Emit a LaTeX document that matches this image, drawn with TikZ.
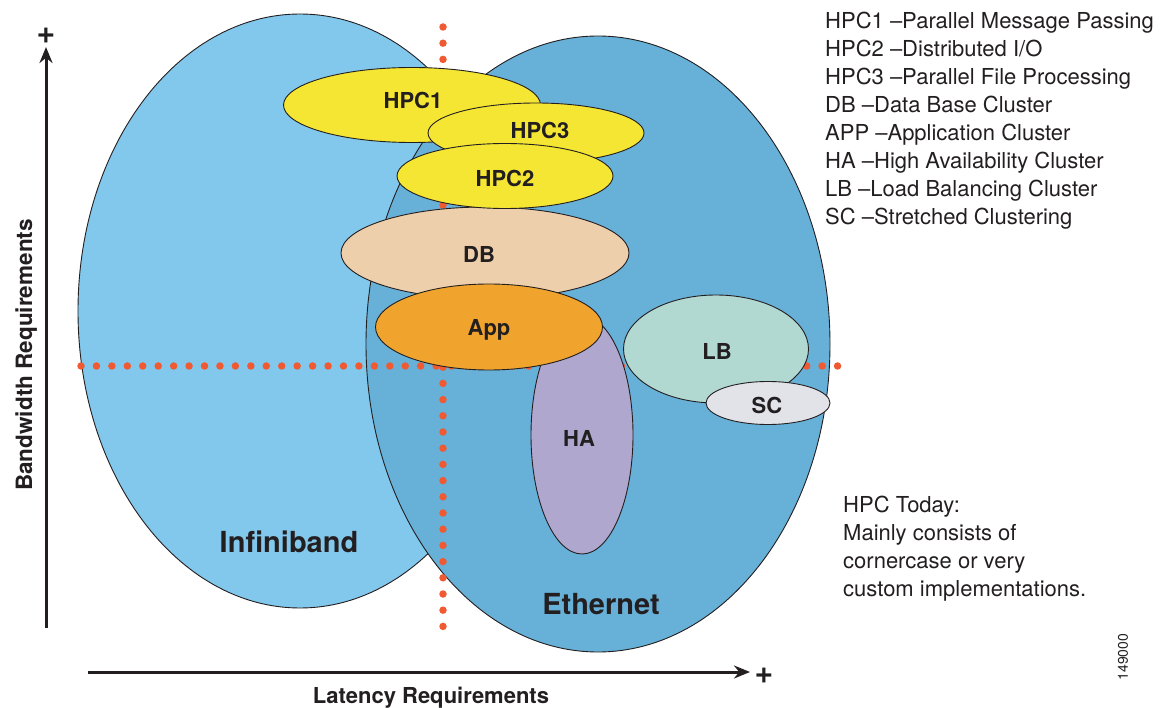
\documentclass[tikz,border=0pt]{standalone}
\usepackage{fontspec}
\setmainfont{TeX Gyre Heros}
\usetikzlibrary{shapes.geometric,arrows.meta}
\definecolor{ibblue}{HTML}{82C8EC}
\definecolor{ethblue}{HTML}{67B0D8}
\definecolor{hpcyellow}{HTML}{F5E633}
\definecolor{dbtan}{HTML}{EECFAB}
\definecolor{apporange}{HTML}{F0A42E}
\definecolor{halilac}{HTML}{B0A7CF}
\definecolor{lbteal}{HTML}{B2D8D2}
\definecolor{scgrey}{HTML}{E2E3E8}
\definecolor{dotred}{HTML}{F05A32}
\definecolor{ink}{HTML}{231F20}
\begin{document}
\begin{tikzpicture}[x=1pt,y=-1pt,
  blob/.style={ellipse, draw=ink, line width=0.9pt, inner sep=0pt},
  tag/.style={text=ink, inner sep=0pt, text depth=0pt, font=\fontsize{22}{22}\selectfont\bfseries},
  dotline/.style={draw=dotred, line width=7.5pt, line cap=round, dash pattern=on 0pt off #1},
  axis/.style={draw=ink, line width=3pt, -{Stealth[length=16pt,width=13pt]}},
  bigtag/.style={text=ink, inner sep=0pt, font=\fontsize{29}{29}\selectfont\bfseries},
  plain/.style={text=ink, inner sep=0pt, align=left, font=\fontsize{22}{28}\selectfont},
  plus/.style={text=ink, inner sep=0pt, font=\fontsize{32}{32}\selectfont\bfseries}
]
\useasboundingbox (0,0) rectangle (1175,708);
% big regions
\node[blob, fill=ibblue, minimum width=444pt, minimum height=594pt] (ib) at (300,311) {};
\node[blob, fill=ethblue, minimum width=464pt, minimum height=616pt] (eth) at (598,344) {};
% dotted quadrant lines
\coordinate (vtop) at (443,27);
\coordinate (vbot) at (443,627.5);
\coordinate (hl) at (81,366);
\coordinate (hr) at (838.5,366);
\draw[dotline=16.2pt] (vtop) -- (vbot);
\draw[dotline=15.44pt] (hl) -- (hr);
% clusters
\node[blob, fill=hpcyellow, minimum width=257pt, minimum height=75pt] (hpc1) at (412,105) {};
\node[tag] (hpc1t) at (413,100) {HPC1};
\node[blob, fill=hpcyellow, minimum width=216pt, minimum height=60pt] (hpc3) at (536,133) {};
\node[tag] (hpc3t) at (540,130) {HPC3};
\node[blob, fill=dbtan, minimum width=288pt, minimum height=92pt] (db) at (485,253) {};
\node[tag] (dbt) at (479,254) {DB};
\node[blob, fill=hpcyellow, minimum width=216pt, minimum height=65pt] (hpc2) at (505,176) {};
\node[tag] (hpc2t) at (505,178) {HPC2};
\node[blob, fill=halilac, minimum width=102pt, minimum height=238pt] (ha) at (582,435) {};
\node[tag] (hat) at (579,438) {HA};
\node[blob, fill=apporange, minimum width=227pt, minimum height=86pt] (app) at (489,327) {};
\node[tag] (appt) at (489,327) {App};
\node[blob, fill=lbteal, minimum width=185pt, minimum height=108pt] (lb) at (716,349) {};
\node[tag] (lbt) at (717,351) {LB};
\node[blob, fill=scgrey, minimum width=124pt, minimum height=43pt] (sc) at (768,403) {};
\node[tag] (sct) at (767,405) {SC};
% region labels
\node[bigtag] (iblabel) at (289,542) {Infiniband};
\node[bigtag] (ethlabel) at (601,604) {Ethernet};
% axes
\coordinate (yb) at (46,628);
\coordinate (yt) at (46,47);
\coordinate (xa) at (88,672);
\coordinate (xb) at (750,672);
\draw[axis] (yb) -- (yt);
\draw[axis] (xa) -- (xb);
\node[plus] (yplus) at (46,36) {+};
\node[plus] (xplus) at (764,676) {+};
\node[text=ink, inner sep=0pt, anchor=base, font=\fontsize{22}{22}\selectfont\bfseries] (xlab) at (431,703) {Latency Requirements};
\node[text=ink, inner sep=0pt, anchor=base, rotate=90, font=\fontsize{22.5}{22.5}\selectfont\bfseries] (ylab) at (32,355) {Bandwidth Requirements};
% legend
\node[plain, anchor=north west] (legend) at (825,12) {HPC1 –Parallel Message Passing\\HPC2 –Distributed I/O\\HPC3 –Parallel File Processing\\DB –Data Base Cluster\\APP –Application Cluster\\HA –High Availability Cluster\\LB –Load Balancing Cluster\\SC –Stretched Clustering};
\node[plain, anchor=north west] (today) at (843,496) {HPC Today:\\Mainly consists of\\cornercase or very\\custom implementations.};
\node[text=ink, inner sep=0pt, rotate=90, font=\fontsize{14}{14}\selectfont] (fig) at (1123,657) {149000};
\end{tikzpicture}
\end{document}
